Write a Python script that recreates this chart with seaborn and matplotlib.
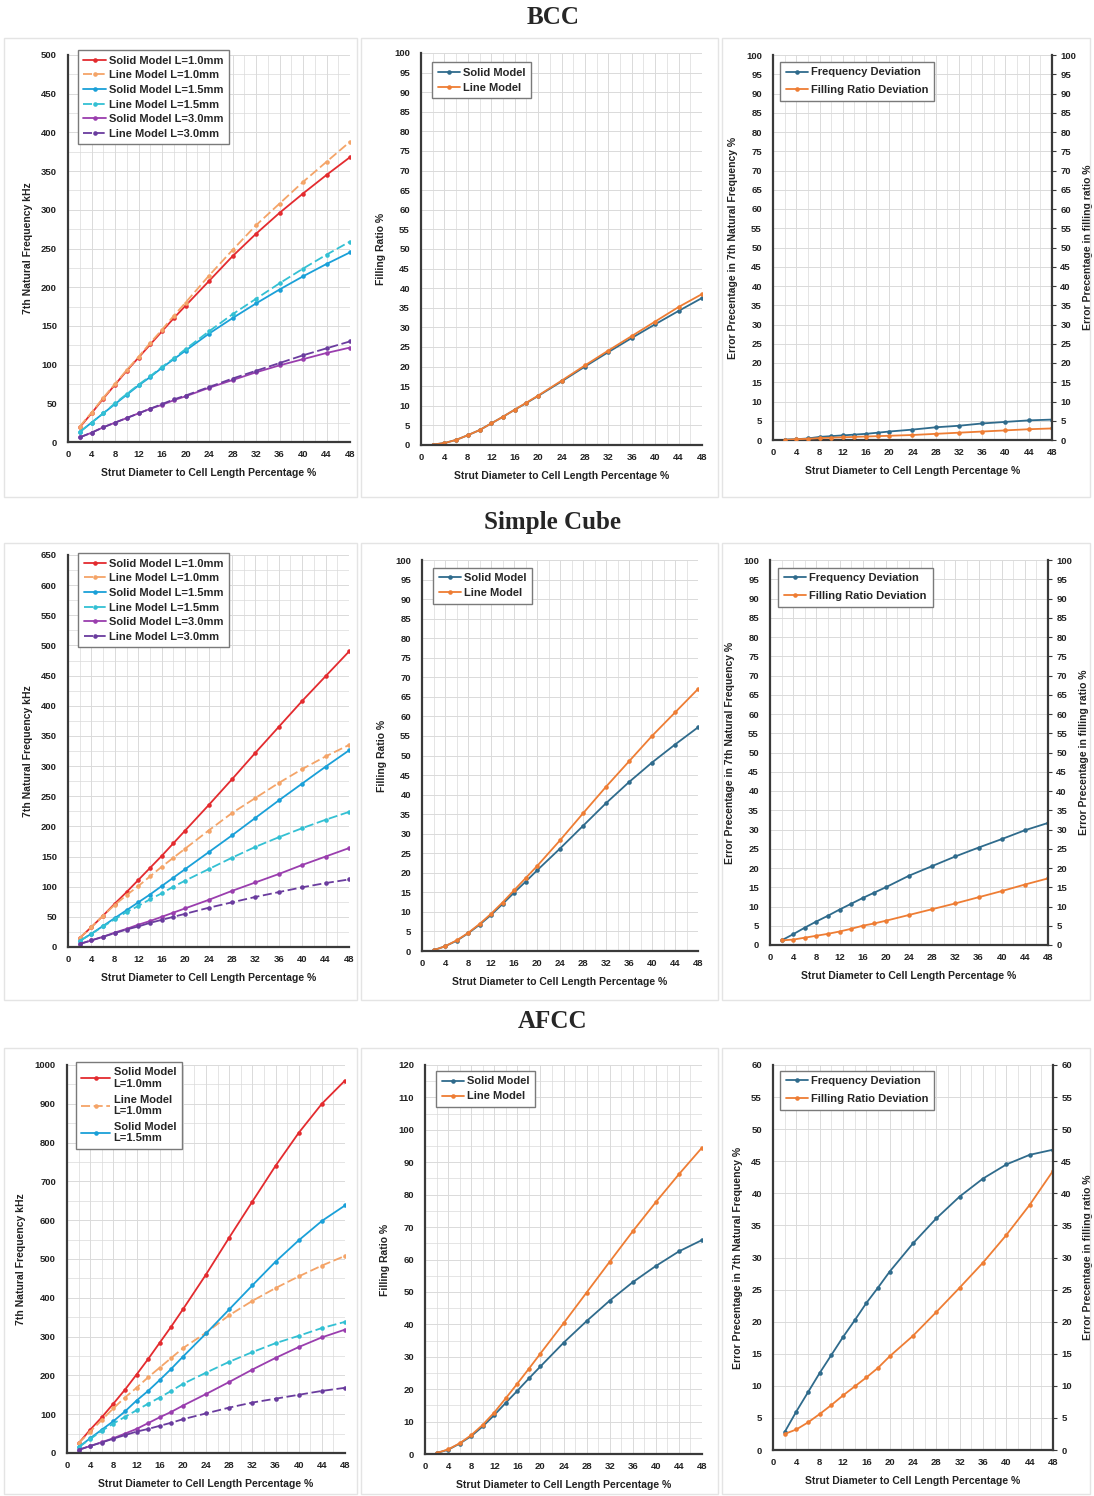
import numpy as np
import pandas as pd
import matplotlib
matplotlib.use("Agg")
import matplotlib.pyplot as plt
import seaborn as sns
from matplotlib.ticker import MultipleLocator
from matplotlib.patches import Rectangle

# ---------------- data ----------------
strut_pct = [2, 4, 6, 8, 10, 12, 14, 16, 18, 20, 24, 28, 32, 36, 40, 44, 48]

# BCC - natural frequency (kHz)
bcc_solid_10 = [19, 37, 56, 74, 92, 109, 126, 143, 160, 176, 208, 240, 269, 296, 321, 345, 368]
bcc_line_10 = [20, 38, 57, 75, 93, 110, 128, 145, 163, 180, 215, 248, 280, 308, 336, 362, 388]
bcc_solid_15 = [13, 25, 37, 49, 61, 73, 84, 96, 107, 118, 140, 160, 179, 197, 214, 230, 245]
bcc_line_15 = [13, 25, 37, 50, 62, 74, 85, 97, 108, 120, 143, 165, 185, 205, 224, 242, 259]
bcc_solid_30 = [6, 12, 19, 25, 31, 37, 43, 48, 54, 59, 70, 80, 90, 99, 107, 115, 122]
bcc_line_30 = [6, 12, 19, 25, 31, 37, 43, 49, 55, 60, 71, 82, 92, 102, 112, 121, 130]
# BCC - filling ratio (%)
bcc_fill_solid = [0.1, 0.5, 1.3, 2.5, 3.8, 5.5, 7.2, 9.0, 10.7, 12.5, 16.2, 20.0, 23.7, 27.3, 30.8, 34.2, 37.5]
bcc_fill_line = [0.1, 0.5, 1.3, 2.5, 3.8, 5.5, 7.2, 9.0, 10.8, 12.6, 16.4, 20.3, 24.1, 27.8, 31.5, 35.2, 38.5]
# BCC - deviations (%)
bcc_freq_dev = [0.1, 0.2, 0.4, 0.8, 1.0, 1.2, 1.4, 1.6, 1.9, 2.2, 2.7, 3.3, 3.7, 4.3, 4.7, 5.1, 5.3]
bcc_fill_dev = [0.0, 0.2, 0.3, 0.5, 0.6, 0.7, 0.8, 0.9, 1.0, 1.1, 1.3, 1.6, 1.9, 2.2, 2.5, 2.8, 3.0]

# Simple Cube
sc_solid_10 = [15, 33, 52, 72, 91, 111, 131, 151, 172, 193, 235, 278, 322, 365, 408, 449, 490]
sc_line_10 = [15, 33, 52, 70, 86, 101, 117, 133, 148, 163, 193, 222, 247, 272, 295, 316, 335]
sc_solid_15 = [10, 22, 35, 48, 61, 74, 87, 101, 115, 129, 157, 185, 214, 243, 271, 299, 326]
sc_line_15 = [10, 22, 34, 46, 58, 68, 79, 89, 100, 110, 129, 148, 166, 182, 197, 211, 224]
sc_solid_30 = [5, 11, 17, 24, 30, 37, 43, 50, 57, 64, 78, 93, 107, 121, 136, 150, 164]
sc_line_30 = [5, 11, 17, 23, 29, 34, 40, 45, 50, 55, 65, 74, 83, 91, 99, 106, 112]
sc_fill_solid = [0.2, 1.2, 2.6, 4.5, 6.7, 9.2, 12.0, 14.9, 17.7, 20.6, 26.2, 32.0, 37.8, 43.2, 48.2, 52.8, 57.2]
sc_fill_line = [0.2, 1.2, 2.7, 4.6, 6.9, 9.5, 12.4, 15.5, 18.6, 21.7, 28.3, 35.2, 42.0, 48.5, 55.0, 61.0, 67.0]
sc_freq_dev = [1.2, 2.8, 4.5, 6.1, 7.6, 9.2, 10.7, 12.2, 13.6, 15.0, 18.0, 20.5, 23.0, 25.3, 27.5, 29.8, 31.7]
sc_fill_dev = [1.2, 1.4, 1.9, 2.4, 2.9, 3.5, 4.2, 5.0, 5.6, 6.3, 7.8, 9.3, 10.8, 12.4, 14.0, 15.7, 17.3]

# AFCC
afcc_solid_10 = [25, 60, 92, 127, 163, 202, 242, 284, 326, 370, 460, 555, 648, 740, 825, 900, 960]
afcc_line_10 = [25, 55, 85, 115, 143, 168, 195, 220, 245, 270, 310, 355, 392, 425, 455, 483, 508]
afcc_solid_15 = [15, 38, 60, 82, 107, 135, 160, 188, 217, 248, 308, 370, 432, 493, 548, 598, 638]
afcc_line_15 = [15, 36, 57, 76, 93, 110, 127, 143, 160, 178, 207, 235, 260, 283, 302, 322, 338]
afcc_solid_30 = [8, 18, 28, 38, 50, 62, 77, 92, 106, 122, 152, 183, 215, 245, 273, 298, 318]
afcc_line_30 = [8, 18, 27, 37, 46, 55, 62, 70, 78, 87, 102, 117, 130, 140, 150, 160, 168]
afcc_fill_solid = [0.3, 1.3, 3.2, 5.5, 8.5, 12.0, 15.8, 19.5, 23.3, 27.0, 34.3, 41.0, 47.3, 53.0, 58.0, 62.5, 66.0]
afcc_fill_line = [0.3, 1.4, 3.3, 5.8, 9.0, 12.8, 17.2, 21.7, 26.3, 31.0, 40.3, 49.8, 59.3, 68.7, 77.7, 86.3, 94.5]
afcc_freq_dev = [2.8, 6.0, 9.0, 12.0, 14.8, 17.6, 20.2, 22.9, 25.3, 27.8, 32.2, 36.1, 39.5, 42.3, 44.5, 46.0, 46.8]
afcc_fill_dev = [2.5, 3.2, 4.3, 5.6, 7.0, 8.5, 9.9, 11.3, 12.8, 14.6, 17.8, 21.5, 25.3, 29.2, 33.5, 38.2, 43.5]

# labels
section_titles = ["BCC", "Simple Cube", "AFCC"]
freq_labels = ["Solid Model L=1.0mm", "Line Model L=1.0mm", "Solid Model L=1.5mm",
               "Line Model L=1.5mm", "Solid Model L=3.0mm", "Line Model L=3.0mm"]
afcc_legend_labels = ["Solid Model\nL=1.0mm", "Line Model\nL=1.0mm", "Solid Model\nL=1.5mm"]
fill_labels = ["Solid Model", "Line Model"]
dev_labels = ["Frequency Deviation", "Filling Ratio Deviation"]
xlabel = "Strut Diameter to Cell Length Percentage %"
ylabel_freq = "7th Natural Frequency kHz"
ylabel_fill = "Filling Ratio %"
ylabel_dev_l = "Error Precentage in 7th Natural Frequency %"
ylabel_dev_r = "Error Precentage in filling ratio %"

# ---------------- style ----------------
W, H = 1094, 1496
sns.set_theme(style="white")
plt.rcParams['font.family'] = ['Liberation Sans', 'DejaVu Sans']
plt.rcParams['font.weight'] = 'bold'
plt.rcParams['axes.labelweight'] = 'bold'

fig = plt.figure(figsize=(W / 100, H / 100), dpi=100)


def box(l, r, t, b):
    return [l / W, 1 - b / H, (r - l) / W, (b - t) / H]


C_RED = '#e32b2f'
C_ORANGE = '#f4a468'
C_BLUE = '#1aa0d8'
C_CYAN = '#33c0d3'
C_PURPLE = '#9a3eae'
C_DPURPLE = '#6a3c9e'
C_TEAL = '#2f6b8c'
C_ORG2 = '#ee7d34'

freq_colors = [C_RED, C_ORANGE, C_BLUE, C_CYAN, C_PURPLE, C_DPURPLE]
freq_styles = ['-', (0, (5, 2)), '-', (0, (5, 2)), '-', (0, (5, 2))]

GRID = '#dadada'
SPINE = '#3a3a3a'
TXT = '#222222'


def style_ax(ax, ymax, ystep, yminor=None):
    ax.set_xlim(0, 48)
    ax.set_ylim(0, ymax)
    ax.xaxis.set_major_locator(MultipleLocator(4))
    ax.xaxis.set_minor_locator(MultipleLocator(2))
    ax.yaxis.set_major_locator(MultipleLocator(ystep))
    if yminor:
        ax.yaxis.set_minor_locator(MultipleLocator(yminor))
    ax.grid(which='major', color=GRID, lw=0.7)
    ax.grid(which='minor', color=GRID, lw=0.5)
    ax.set_axisbelow(True)
    for s in ['top', 'right']:
        ax.spines[s].set_visible(False)
    for s in ['left', 'bottom']:
        ax.spines[s].set_color(SPINE)
        ax.spines[s].set_linewidth(1.6)
    ax.tick_params(axis='both', which='both', length=0, labelsize=6.8, colors=TXT)
    ax.tick_params(axis='y', pad=8)
    ax.tick_params(axis='x', pad=6)
    ax.set_xlabel(xlabel, fontsize=7.5, labelpad=6, color=TXT)


def line(ax, y, color, ls='-', label=None):
    sns.lineplot(x=strut_pct, y=y, ax=ax, color=color, linestyle=ls, lw=1.3,
                 marker='o', markersize=3.3, markeredgewidth=0, label=label,
                 legend=False, sort=False)


def legend(ax, handles, labels, x, y, fs=8, spacing=0.4, hl=2.0):
    lg = ax.legend(handles, labels, loc='upper left', bbox_to_anchor=(x, y),
                   borderaxespad=0, frameon=True, fancybox=False, framealpha=1,
                   edgecolor='#7a7a7a', fontsize=fs, handlelength=hl,
                   handletextpad=0.3, labelspacing=spacing, borderpad=0.5)
    lg.get_frame().set_linewidth(1.0)
    return lg


# panel frames
for (t, b) in [(38, 497), (543, 1000), (1048, 1494)]:
    for (l, r) in [(4, 357), (361, 718), (722, 1090)]:
        fig.add_artist(Rectangle((l / W, 1 - b / H), (r - l) / W, (b - t) / H,
                                 transform=fig.transFigure, fill=False,
                                 edgecolor='#e4e4e4', lw=1.0))

# titles
for txt, yy in zip(section_titles, [18, 523, 1022]):
    fig.text(553 / W, 1 - yy / H, txt, ha='center', va='center', fontsize=18,
             fontweight='bold', family=['Liberation Serif', 'DejaVu Serif'])

rows = [
    dict(freq=[bcc_solid_10, bcc_line_10, bcc_solid_15, bcc_line_15, bcc_solid_30, bcc_line_30],
         fmax=500, fstep=50, fminor=25,
         fill=[bcc_fill_solid, bcc_fill_line], fillmax=100, fillstep=5, fillminor=None,
         dev=[bcc_freq_dev, bcc_fill_dev], devmax=100, devstep=5,
         b1=(68, 350, 55, 442), b2=(421, 702, 53, 445), b3=(773, 1052, 55, 440),
         lg1=(0.035, 1.013), lg2=(0.039, 0.977), lg3=(0.025, 0.982), rpad=5),
    dict(freq=[sc_solid_10, sc_line_10, sc_solid_15, sc_line_15, sc_solid_30, sc_line_30],
         fmax=650, fstep=50, fminor=25,
         fill=[sc_fill_solid, sc_fill_line], fillmax=100, fillstep=5, fillminor=None,
         dev=[sc_freq_dev, sc_fill_dev], devmax=100, devstep=5,
         b1=(68, 349, 555, 947), b2=(422, 698, 560, 951), b3=(770, 1048, 560, 945),
         lg1=(0.036, 1.005), lg2=(0.04, 0.98), lg3=(0.03, 0.98), rpad=5),
    dict(freq=[afcc_solid_10, afcc_line_10, afcc_solid_15, afcc_line_15, afcc_solid_30, afcc_line_30],
         fmax=1000, fstep=100, fminor=50,
         fill=[afcc_fill_solid, afcc_fill_line], fillmax=120, fillstep=10, fillminor=5,
         dev=[afcc_freq_dev, afcc_fill_dev], devmax=60, devstep=5,
         b1=(67, 345, 1065, 1453), b2=(425, 702, 1065, 1454), b3=(773, 1053, 1065, 1450),
         lg1=(0.032, 1.008), lg2=(0.04, 0.985), lg3=(0.025, 0.985), rpad=8),
]

for i, r in enumerate(rows):
    # frequency panel
    ax1 = fig.add_axes(box(*r['b1']))
    style_ax(ax1, r['fmax'], r['fstep'], r['fminor'])
    for y, c, ls, lab in zip(r['freq'], freq_colors, freq_styles, freq_labels):
        line(ax1, y, c, ls, lab)
    ax1.set_ylabel(ylabel_freq, fontsize=7.5, labelpad=6, color=TXT)
    h, l = ax1.get_legend_handles_labels()
    if i == 2:
        legend(ax1, h[:3], afcc_legend_labels, *r['lg1'], spacing=0.5, hl=2.6)
    else:
        legend(ax1, h, l, *r['lg1'], spacing=0.42)

    # filling ratio panel
    ax2 = fig.add_axes(box(*r['b2']))
    style_ax(ax2, r['fillmax'], r['fillstep'], r['fillminor'])
    line(ax2, r['fill'][0], C_TEAL, '-', fill_labels[0])
    line(ax2, r['fill'][1], C_ORG2, '-', fill_labels[1])
    ax2.set_ylabel(ylabel_fill, fontsize=7.5, labelpad=6, color=TXT)
    h, l = ax2.get_legend_handles_labels()
    legend(ax2, h, l, *r['lg2'], spacing=0.45)

    # deviation panel with twin axis
    ax3 = fig.add_axes(box(*r['b3']))
    style_ax(ax3, r['devmax'], r['devstep'])
    line(ax3, r['dev'][0], C_TEAL, '-', dev_labels[0])
    ax3.set_ylabel(ylabel_dev_l, fontsize=7.5, labelpad=6, color=TXT)
    ax3b = ax3.twinx()
    ax3b.set_ylim(0, r['devmax'])
    ax3b.yaxis.set_major_locator(MultipleLocator(r['devstep']))
    line(ax3b, r['dev'][1], C_ORG2, '-', dev_labels[1])
    ax3b.grid(False)
    for s in ['top', 'left', 'bottom']:
        ax3b.spines[s].set_visible(False)
    ax3b.spines['right'].set_color(SPINE)
    ax3b.spines['right'].set_linewidth(1.6)
    ax3b.tick_params(axis='y', direction='out', length=3, width=0.8, color=SPINE,
                     labelsize=6.8, pad=3, labelcolor=TXT)
    ax3b.set_ylabel(ylabel_dev_r, fontsize=7.5, labelpad=r['rpad'], color=TXT)
    h1, l1 = ax3.get_legend_handles_labels()
    h2, l2 = ax3b.get_legend_handles_labels()
    legend(ax3b, h1 + h2, l1 + l2, *r['lg3'], fs=8, spacing=0.7)

fig.savefig("out.png", dpi=100, facecolor='white')
